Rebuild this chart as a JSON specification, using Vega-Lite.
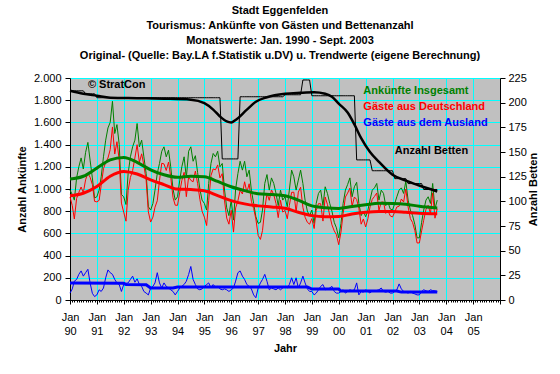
{
"$schema": "https://vega.github.io/schema/vega-lite/v6.json",
"width": 430, "height": 222,
"autosize": {"type": "none"},
"padding": {"left": 70, "top": 78, "right": 60, "bottom": 74},
"background": "white",
"config": {
  "font": "Liberation Sans",
  "view": {"fill": "#C0C0C0", "stroke": null},
  "axis": {"labelFont": "Liberation Sans", "labelFontSize": 11, "labelColor": "black", "titleFont": "Liberation Sans", "titleFontSize": 11, "titleFontWeight": "bold", "titleColor": "black", "domainColor": "black", "tickColor": "black", "gridColor": "#00FFFF", "gridOpacity": 1, "labelOverlap": false},
  "axisLeft": {"tickSize": 5, "labelPadding": 4, "titlePadding": 6, "grid": true, "labelOverlap": false, "labelExpr": "replace(format(datum.value, ','), ',', '.')"},
  "axisRight": {"tickSize": 5, "labelPadding": 3, "titlePadding": 12, "titleAngle": 270, "grid": false, "labelOverlap": false}
},
"title": {"text": ["Stadt Eggenfelden", "Tourismus: Ankünfte von Gästen und Bettenanzahl", "Monatswerte: Jan. 1990 - Sept. 2003", "Original- (Quelle: Bay.LA f.Statistik u.DV) u. Trendwerte (eigene Berechnung)"], "font": "Liberation Sans", "fontSize": 11, "fontWeight": "bold", "color": "black", "lineHeight": 15, "offset": 11, "anchor": "middle", "dx": -5},
"data": {"format": {"parse": {"d": "date:'%Y-%m'"}}, "values": [
{"d":"1990-01","g":990,"r":928,"a":62,"b":212},{"d":"1990-02","g":950,"r":850,"a":100,"b":212},{"d":"1990-03","g":900,"r":730,"a":170,"b":212},{"d":"1990-04","g":1100,"r":915,"a":185,"b":212},{"d":"1990-05","g":1200,"r":969,"a":231,"b":212},{"d":"1990-06","g":1280,"r":1018,"a":262,"b":212},{"d":"1990-07","g":1180,"r":965,"a":215,"b":212},{"d":"1990-08","g":1330,"r":1084,"a":246,"b":209},{"d":"1990-09","g":1420,"r":1143,"a":277,"b":209},{"d":"1990-10","g":1260,"r":1106,"a":154,"b":209},{"d":"1990-11","g":1100,"r":1040,"a":60,"b":209},{"d":"1990-12","g":920,"r":889,"a":31,"b":209},
{"d":"1991-01","g":930,"r":884,"a":46,"b":205},{"d":"1991-02","g":990,"r":898,"a":92,"b":205},{"d":"1991-03","g":1110,"r":1033,"a":77,"b":205},{"d":"1991-04","g":1290,"r":1182,"a":108,"b":205},{"d":"1991-05","g":1440,"r":1240,"a":200,"b":205},{"d":"1991-06","g":1550,"r":1279,"a":271,"b":205},{"d":"1991-07","g":1600,"r":1354,"a":246,"b":205},{"d":"1991-08","g":1790,"r":1559,"a":231,"b":205},{"d":"1991-09","g":1500,"r":1315,"a":185,"b":205},{"d":"1991-10","g":1580,"r":1426,"a":154,"b":205},{"d":"1991-11","g":1400,"r":1261,"a":139,"b":205},{"d":"1991-12","g":950,"r":873,"a":77,"b":205},
{"d":"1992-01","g":930,"r":791,"a":139,"b":205},{"d":"1992-02","g":860,"r":710,"a":150,"b":205},{"d":"1992-03","g":1140,"r":986,"a":154,"b":205},{"d":"1992-04","g":1290,"r":1105,"a":185,"b":205},{"d":"1992-05","g":1380,"r":1165,"a":215,"b":205},{"d":"1992-06","g":1440,"r":1280,"a":160,"b":205},{"d":"1992-07","g":1590,"r":1399,"a":191,"b":205},{"d":"1992-08","g":1380,"r":1240,"a":140,"b":205},{"d":"1992-09","g":1440,"r":1317,"a":123,"b":205},{"d":"1992-10","g":1290,"r":1213,"a":77,"b":205},{"d":"1992-11","g":1140,"r":1078,"a":62,"b":205},{"d":"1992-12","g":840,"r":794,"a":46,"b":205},
{"d":"1993-01","g":810,"r":702,"a":108,"b":205},{"d":"1993-02","g":870,"r":747,"a":123,"b":205},{"d":"1993-03","g":990,"r":836,"a":154,"b":205},{"d":"1993-04","g":1140,"r":894,"a":246,"b":205},{"d":"1993-05","g":1230,"r":1076,"a":154,"b":205},{"d":"1993-06","g":1340,"r":1232,"a":108,"b":205},{"d":"1993-07","g":1380,"r":1226,"a":154,"b":205},{"d":"1993-08","g":1290,"r":1167,"a":123,"b":205},{"d":"1993-09","g":1350,"r":1242,"a":108,"b":205},{"d":"1993-10","g":1200,"r":1108,"a":92,"b":205},{"d":"1993-11","g":1000,"r":923,"a":77,"b":205},{"d":"1993-12","g":900,"r":854,"a":46,"b":205},
{"d":"1994-01","g":930,"r":853,"a":77,"b":205},{"d":"1994-02","g":1080,"r":972,"a":108,"b":205},{"d":"1994-03","g":1200,"r":1077,"a":123,"b":205},{"d":"1994-04","g":1290,"r":1150,"a":140,"b":205},{"d":"1994-05","g":1100,"r":931,"a":169,"b":205},{"d":"1994-06","g":1340,"r":1110,"a":230,"b":205},{"d":"1994-07","g":1380,"r":1078,"a":302,"b":205},{"d":"1994-08","g":1250,"r":1065,"a":185,"b":205},{"d":"1994-09","g":1300,"r":1161,"a":139,"b":205},{"d":"1994-10","g":1150,"r":1050,"a":100,"b":205},{"d":"1994-11","g":1000,"r":908,"a":92,"b":205},{"d":"1994-12","g":900,"r":800,"a":100,"b":205},
{"d":"1995-01","g":870,"r":747,"a":123,"b":205},{"d":"1995-02","g":810,"r":671,"a":139,"b":205},{"d":"1995-03","g":1050,"r":896,"a":154,"b":205},{"d":"1995-04","g":1230,"r":1122,"a":108,"b":205},{"d":"1995-05","g":1320,"r":1181,"a":139,"b":205},{"d":"1995-06","g":1290,"r":1173,"a":117,"b":205},{"d":"1995-07","g":1340,"r":1217,"a":123,"b":205},{"d":"1995-08","g":1200,"r":1100,"a":100,"b":205},{"d":"1995-09","g":1230,"r":1138,"a":92,"b":143},{"d":"1995-10","g":1000,"r":900,"a":100,"b":143},{"d":"1995-11","g":830,"r":738,"a":92,"b":143},{"d":"1995-12","g":760,"r":683,"a":77,"b":143},
{"d":"1996-01","g":900,"r":808,"a":92,"b":143},{"d":"1996-02","g":720,"r":612,"a":108,"b":143},{"d":"1996-03","g":1000,"r":830,"a":170,"b":143},{"d":"1996-04","g":1140,"r":894,"a":246,"b":143},{"d":"1996-05","g":1250,"r":988,"a":262,"b":206},{"d":"1996-06","g":1170,"r":955,"a":215,"b":206},{"d":"1996-07","g":1250,"r":1065,"a":185,"b":206},{"d":"1996-08","g":1110,"r":971,"a":139,"b":206},{"d":"1996-09","g":1170,"r":1047,"a":123,"b":206},{"d":"1996-10","g":990,"r":890,"a":100,"b":206},{"d":"1996-11","g":870,"r":824,"a":46,"b":206},{"d":"1996-12","g":750,"r":730,"a":20,"b":206},
{"d":"1997-01","g":690,"r":582,"a":108,"b":206},{"d":"1997-02","g":700,"r":546,"a":154,"b":206},{"d":"1997-03","g":810,"r":625,"a":185,"b":206},{"d":"1997-04","g":1050,"r":819,"a":231,"b":206},{"d":"1997-05","g":1130,"r":961,"a":169,"b":206},{"d":"1997-06","g":990,"r":898,"a":92,"b":206},{"d":"1997-07","g":1100,"r":992,"a":108,"b":206},{"d":"1997-08","g":1050,"r":950,"a":100,"b":206},{"d":"1997-09","g":960,"r":868,"a":92,"b":206},{"d":"1997-10","g":850,"r":742,"a":108,"b":206},{"d":"1997-11","g":990,"r":898,"a":92,"b":206},{"d":"1997-12","g":900,"r":792,"a":108,"b":206},
{"d":"1998-01","g":930,"r":807,"a":123,"b":208},{"d":"1998-02","g":840,"r":732,"a":108,"b":208},{"d":"1998-03","g":990,"r":851,"a":139,"b":208},{"d":"1998-04","g":1170,"r":970,"a":200,"b":208},{"d":"1998-05","g":1110,"r":971,"a":139,"b":208},{"d":"1998-06","g":990,"r":790,"a":200,"b":208},{"d":"1998-07","g":1080,"r":972,"a":108,"b":208},{"d":"1998-08","g":1170,"r":1016,"a":154,"b":208},{"d":"1998-09","g":1050,"r":835,"a":215,"b":223},{"d":"1998-10","g":900,"r":746,"a":154,"b":223},{"d":"1998-11","g":800,"r":700,"a":100,"b":223},{"d":"1998-12","g":760,"r":683,"a":77,"b":223},
{"d":"1999-01","g":810,"r":733,"a":77,"b":207},{"d":"1999-02","g":690,"r":644,"a":46,"b":207},{"d":"1999-03","g":870,"r":808,"a":62,"b":207},{"d":"1999-04","g":960,"r":868,"a":92,"b":207},{"d":"1999-05","g":990,"r":867,"a":123,"b":207},{"d":"1999-06","g":850,"r":711,"a":139,"b":207},{"d":"1999-07","g":1020,"r":928,"a":92,"b":207},{"d":"1999-08","g":960,"r":860,"a":100,"b":207},{"d":"1999-09","g":870,"r":762,"a":108,"b":207},{"d":"1999-10","g":800,"r":677,"a":123,"b":207},{"d":"1999-11","g":700,"r":623,"a":77,"b":207},{"d":"1999-12","g":650,"r":588,"a":62,"b":207},
{"d":"2000-01","g":560,"r":498,"a":62,"b":207},{"d":"2000-02","g":690,"r":613,"a":77,"b":207},{"d":"2000-03","g":870,"r":778,"a":92,"b":207},{"d":"2000-04","g":990,"r":928,"a":62,"b":207},{"d":"2000-05","g":1040,"r":963,"a":77,"b":207},{"d":"2000-06","g":1100,"r":1008,"a":92,"b":207},{"d":"2000-07","g":930,"r":845,"a":85,"b":207},{"d":"2000-08","g":1020,"r":928,"a":92,"b":207},{"d":"2000-09","g":1060,"r":906,"a":154,"b":142},{"d":"2000-10","g":870,"r":824,"a":46,"b":142},{"d":"2000-11","g":760,"r":683,"a":77,"b":142},{"d":"2000-12","g":800,"r":730,"a":70,"b":142},
{"d":"2001-01","g":750,"r":658,"a":92,"b":142},{"d":"2001-02","g":810,"r":733,"a":77,"b":142},{"d":"2001-03","g":900,"r":838,"a":62,"b":142},{"d":"2001-04","g":990,"r":907,"a":83,"b":131},{"d":"2001-05","g":1010,"r":933,"a":77,"b":131},{"d":"2001-06","g":1050,"r":964,"a":86,"b":131},{"d":"2001-07","g":900,"r":808,"a":92,"b":131},{"d":"2001-08","g":990,"r":882,"a":108,"b":131},{"d":"2001-09","g":960,"r":883,"a":77,"b":131},{"d":"2001-10","g":850,"r":780,"a":70,"b":131},{"d":"2001-11","g":880,"r":803,"a":77,"b":131},{"d":"2001-12","g":820,"r":758,"a":62,"b":131},
{"d":"2002-01","g":810,"r":748,"a":62,"b":131},{"d":"2002-02","g":870,"r":793,"a":77,"b":123},{"d":"2002-03","g":930,"r":838,"a":92,"b":123},{"d":"2002-04","g":990,"r":845,"a":145,"b":123},{"d":"2002-05","g":1010,"r":910,"a":100,"b":123},{"d":"2002-06","g":960,"r":883,"a":77,"b":123},{"d":"2002-07","g":1070,"r":1000,"a":70,"b":123},{"d":"2002-08","g":900,"r":838,"a":62,"b":118},{"d":"2002-09","g":810,"r":733,"a":77,"b":118},{"d":"2002-10","g":760,"r":698,"a":62,"b":118},{"d":"2002-11","g":680,"r":625,"a":55,"b":118},{"d":"2002-12","g":560,"r":514,"a":46,"b":118},
{"d":"2003-01","g":560,"r":514,"a":46,"b":118},{"d":"2003-02","g":700,"r":623,"a":77,"b":118},{"d":"2003-03","g":810,"r":718,"a":92,"b":112},{"d":"2003-04","g":900,"r":817,"a":83,"b":112},{"d":"2003-05","g":930,"r":853,"a":77,"b":112},{"d":"2003-06","g":870,"r":778,"a":92,"b":112},{"d":"2003-07","g":1050,"r":965,"a":85,"b":112},{"d":"2003-08","g":820,"r":737,"a":83,"b":112},{"d":"2003-09","g":900,"r":823,"a":77,"b":112},
{"d":"1990-01","gt":1090,"rt":940},{"d":"1990-07","gt":1115,"rt":962},{"d":"1991-01","gt":1188,"rt":1022},{"d":"1991-07","gt":1262,"rt":1115},{"d":"1992-01","gt":1284,"rt":1158},{"d":"1992-07","gt":1240,"rt":1135},{"d":"1993-01","gt":1173,"rt":1083},{"d":"1993-07","gt":1128,"rt":1040},{"d":"1994-01","gt":1105,"rt":999},{"d":"1994-07","gt":1115,"rt":995},{"d":"1995-01","gt":1110,"rt":984},{"d":"1995-07","gt":1068,"rt":940},{"d":"1996-01","gt":1020,"rt":895},{"d":"1996-07","gt":985,"rt":866},{"d":"1997-01","gt":957,"rt":848},{"d":"1997-07","gt":950,"rt":838},{"d":"1998-01","gt":940,"rt":827},{"d":"1998-07","gt":900,"rt":790},{"d":"1999-01","gt":848,"rt":760},{"d":"1999-07","gt":832,"rt":750},{"d":"2000-01","gt":825,"rt":752},{"d":"2000-07","gt":842,"rt":775},{"d":"2001-01","gt":858,"rt":790},{"d":"2001-07","gt":872,"rt":797},{"d":"2002-01","gt":870,"rt":797},{"d":"2002-07","gt":862,"rt":790},{"d":"2003-01","gt":845,"rt":782},{"d":"2003-09","gt":828,"rt":776},
{"d":"1990-01","bt":154},{"d":"1992-01","bt":150},{"d":"1992-02","bt":140},{"d":"1992-11","bt":138},{"d":"1993-01","bt":108},{"d":"1993-11","bt":108},{"d":"1994-01","bt":117},{"d":"1998-11","bt":117},{"d":"1999-01","bt":98},{"d":"2000-01","bt":98},{"d":"2000-02","bt":80},{"d":"2002-03","bt":80},{"d":"2002-05","bt":71},{"d":"2003-09","bt":71},
{"d":"1990-01","bdt":212},{"d":"1990-07","bdt":209},{"d":"1991-01","bdt":207},{"d":"1991-07","bdt":205},{"d":"1992-07","bdt":204.5},{"d":"1993-07","bdt":204},{"d":"1994-07","bdt":203},{"d":"1995-01","bdt":199.5},{"d":"1995-05","bdt":193},{"d":"1995-08","bdt":186},{"d":"1995-11","bdt":181},{"d":"1996-01","bdt":180},{"d":"1996-03","bdt":182.5},{"d":"1996-08","bdt":193},{"d":"1996-12","bdt":201},{"d":"1997-05","bdt":205.5},{"d":"1998-01","bdt":209},{"d":"1998-08","bdt":210},{"d":"1999-02","bdt":210.5},{"d":"1999-07","bdt":209},{"d":"1999-10","bdt":206},{"d":"2000-01","bdt":199},{"d":"2000-05","bdt":190},{"d":"2000-08","bdt":178},{"d":"2000-11","bdt":164},{"d":"2001-03","bdt":150},{"d":"2001-07","bdt":140},{"d":"2002-01","bdt":127},{"d":"2002-07","bdt":121},{"d":"2003-01","bdt":116},{"d":"2003-09","bdt":110},
{"d":"1990-09","lv":1940,"txt":"© StratCon"},
{"d":"2000-12","lv":1880,"txt":"Ankünfte Insgesamt"},
{"d":"2000-12","lv":1738,"txt":"Gäste aus Deutschland"},
{"d":"2000-12","lv":1595,"txt":"Gäste aus dem Ausland"},
{"d":"2002-02","lv":1345,"txt":"Anzahl Betten"}
]},
"layer": [
{"encoding": {
   "x": {"field": "d", "type": "temporal", "title": "Jahr",
     "scale": {"domain": [{"year": 1990, "month": 1, "date": 1}, {"year": 2006, "month": 1, "date": 1}]},
     "axis": {"tickCount": {"interval": "year", "step": 1}, "labelExpr": "year(datum.value) > 2005 ? '' : ['Jan', timeFormat(datum.value, '%y')]", "labelFlush": false, "labelAlign": "center", "tickSize": 4, "labelPadding": 7, "labelLineHeight": 14.5, "grid": true, "titlePadding": 6, "domain": true}}
 },
 "layer": [
 {"mark": {"type": "line", "color": "#008000", "strokeWidth": 1, "invalid": "filter"},
  "encoding": {"y": {"field": "g", "type": "quantitative", "title": "Anzahl Ankünfte", "scale": {"domain": [0, 2000], "nice": false}, "axis": {"values": [0, 200, 400, 600, 800, 1000, 1200, 1400, 1600, 1800, 2000]}}}},
 {"mark": {"type": "line", "color": "#FF0000", "strokeWidth": 1, "invalid": "filter"},
  "encoding": {"y": {"field": "r", "type": "quantitative", "title": "Anzahl Ankünfte", "axis": {"values": [0, 200, 400, 600, 800, 1000, 1200, 1400, 1600, 1800, 2000]}}}},
 {"mark": {"type": "line", "color": "#0000FF", "strokeWidth": 1, "invalid": "filter"},
  "encoding": {"y": {"field": "a", "type": "quantitative", "title": "Anzahl Ankünfte", "axis": {"values": [0, 200, 400, 600, 800, 1000, 1200, 1400, 1600, 1800, 2000]}}}},
 {"mark": {"type": "line", "color": "#008000", "strokeWidth": 3, "interpolate": "monotone", "invalid": "filter"},
  "encoding": {"y": {"field": "gt", "type": "quantitative", "title": "Anzahl Ankünfte", "axis": {"values": [0, 200, 400, 600, 800, 1000, 1200, 1400, 1600, 1800, 2000]}}}},
 {"mark": {"type": "line", "color": "#FF0000", "strokeWidth": 3, "interpolate": "monotone", "invalid": "filter"},
  "encoding": {"y": {"field": "rt", "type": "quantitative", "title": "Anzahl Ankünfte", "axis": {"values": [0, 200, 400, 600, 800, 1000, 1200, 1400, 1600, 1800, 2000]}}}},
 {"mark": {"type": "line", "color": "#0000FF", "strokeWidth": 3, "invalid": "filter"},
  "encoding": {"y": {"field": "bt", "type": "quantitative", "title": "Anzahl Ankünfte", "axis": {"values": [0, 200, 400, 600, 800, 1000, 1200, 1400, 1600, 1800, 2000]}}}},
 {"mark": {"type": "text", "align": "left", "baseline": "middle", "font": "Liberation Sans", "fontSize": 11, "fontWeight": "bold", "invalid": "filter"},
  "encoding": {"y": {"field": "lv", "type": "quantitative", "title": "Anzahl Ankünfte", "axis": {"values": [0, 200, 400, 600, 800, 1000, 1200, 1400, 1600, 1800, 2000]}},
   "text": {"field": "txt"},
   "color": {"field": "txt", "type": "nominal", "legend": null, "scale": {"domain": ["© StratCon", "Ankünfte Insgesamt", "Gäste aus Deutschland", "Gäste aus dem Ausland", "Anzahl Betten"], "range": ["#000000", "#008000", "#FF0000", "#0000FF", "#000000"]}}}}
]},
{"encoding": {
   "x": {"field": "d", "type": "temporal", "title": null,
     "scale": {"domain": [{"year": 1990, "month": 1, "date": 1}, {"year": 2006, "month": 1, "date": 1}]},
     "axis": {"orient": "bottom", "tickCount": {"interval": "month", "step": 1}, "labels": false, "tickSize": 2, "domain": false, "grid": false}}
 },
 "layer": [
 {"mark": {"type": "line", "color": "#000000", "strokeWidth": 1, "invalid": "filter"},
  "encoding": {"y": {"field": "b", "type": "quantitative", "title": "Anzahl Betten", "scale": {"domain": [0, 225], "nice": false}, "axis": {"orient": "right", "values": [0, 25, 50, 75, 100, 125, 150, 175, 200, 225]}}}},
 {"mark": {"type": "line", "color": "#000000", "strokeWidth": 2.5, "interpolate": "monotone", "invalid": "filter"},
  "encoding": {"y": {"field": "bdt", "type": "quantitative", "title": "Anzahl Betten", "axis": {"orient": "right", "values": [0, 25, 50, 75, 100, 125, 150, 175, 200, 225]}}}}
]}
],
"resolve": {"scale": {"y": "independent", "x": "independent"}}
}
